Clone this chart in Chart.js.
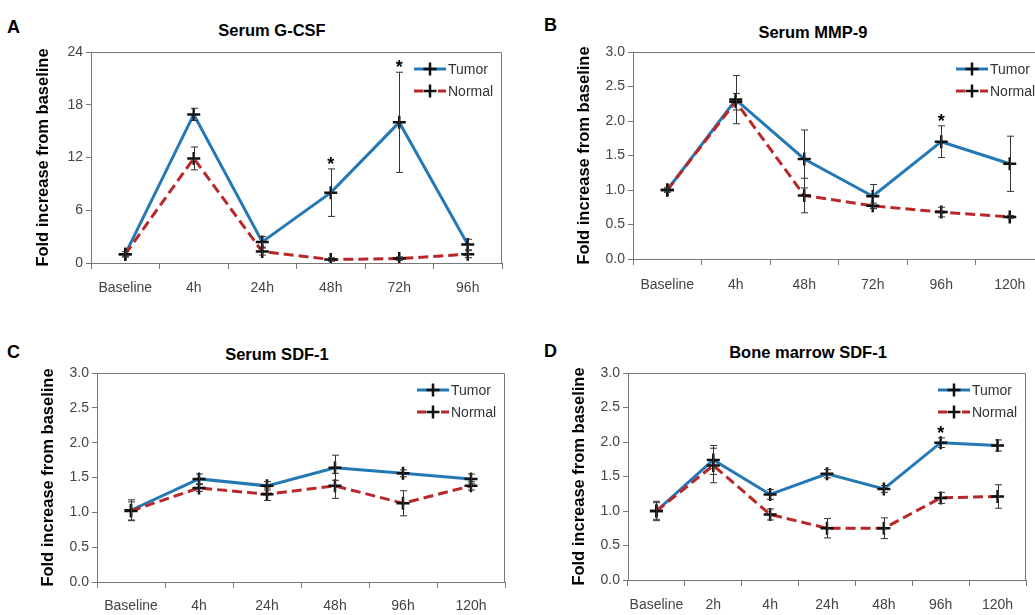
<!DOCTYPE html>
<html>
<head>
<meta charset="utf-8">
<script src="https://cdn.jsdelivr.net/npm/chart.js@4.4.0/dist/chart.umd.min.js"></script>
<style>
  html, body { margin: 0; padding: 0; background: #fff; overflow: hidden; width: 1035px; height: 615px; }
  canvas { position: absolute; }
  .lbl { position: absolute; font-family: "Liberation Sans", Arial, sans-serif; font-weight: bold; color: #000; white-space: nowrap; }
  .ttl { font-size: 16.5px; text-align: center; width: 300px; line-height: 20px; }
  .let { font-size: 18px; line-height: 20px; }
</style>
</head>
<body>
<div class="lbl let" style="left:7px;top:17px">A</div>
<div class="lbl let" style="left:544px;top:15px">B</div>
<div class="lbl let" style="left:7px;top:342px">C</div>
<div class="lbl let" style="left:544px;top:341px">D</div>
<div class="lbl ttl" style="left:122px;top:20px">Serum G-CSF</div>
<div class="lbl ttl" style="left:663px;top:22px">Serum MMP-9</div>
<div class="lbl ttl" style="left:127px;top:344px">Serum SDF-1</div>
<div class="lbl ttl" style="left:658px;top:342px">Bone marrow SDF-1</div>
<canvas id="chartA" width="515" height="305" style="left:0px;top:0px"></canvas>
<canvas id="chartB" width="540" height="305" style="left:520px;top:0px"></canvas>
<canvas id="chartC" width="515" height="305" style="left:0px;top:310px"></canvas>
<canvas id="chartD" width="515" height="305" style="left:520px;top:310px"></canvas>
<script>
const seriesNames = ["Tumor", "Normal"];

// A - Serum G-CSF
const catsA = ["Baseline", "4h", "24h", "48h", "72h", "96h"];
const tumorA = [1.0, 16.9, 2.4, 8.0, 16.0, 2.1];
const tumorErrA = [0.3, 0.7, 0.6, 2.7, 5.7, 0.6];
const normalA = [1.0, 11.9, 1.3, 0.4, 0.5, 1.0];
const normalErrA = [0.3, 1.3, 0.4, 0.2, 0.2, 0.4];
const starsA = [3, 4];
const yTicksA = [0, 6, 12, 18, 24];
const yLabelsA = ["0", "6", "12", "18", "24"];

// B - Serum MMP-9
const catsB = ["Baseline", "4h", "48h", "72h", "96h", "120h"];
const tumorB = [1.0, 2.31, 1.45, 0.91, 1.70, 1.38];
const tumorErrB = [0.03, 0.35, 0.42, 0.17, 0.23, 0.40];
const normalB = [1.0, 2.28, 0.92, 0.77, 0.68, 0.61];
const normalErrB = [0.03, 0.12, 0.25, 0.04, 0.07, 0.02];
const starsB = [4];

// C - Serum SDF-1
const catsC = ["Baseline", "4h", "24h", "48h", "96h", "120h"];
const tumorC = [1.03, 1.48, 1.38, 1.64, 1.56, 1.48];
const tumorErrC = [0.15, 0.07, 0.06, 0.18, 0.05, 0.07];
const normalC = [1.02, 1.35, 1.26, 1.38, 1.13, 1.38];
const normalErrC = [0.13, 0.05, 0.09, 0.18, 0.18, 0.06];
const starsC = [];

// D - Bone marrow SDF-1
const catsD = ["Baseline", "2h", "4h", "24h", "48h", "96h", "120h"];
const tumorD = [1.0, 1.74, 1.24, 1.54, 1.32, 1.99, 1.95];
const tumorErrD = [0.14, 0.21, 0.07, 0.06, 0.05, 0.07, 0.08];
const normalD = [1.0, 1.66, 0.95, 0.75, 0.75, 1.19, 1.21];
const normalErrD = [0.12, 0.25, 0.08, 0.14, 0.15, 0.08, 0.17];
const starsD = [5];

// shared y ticks for B, C, D
const yTicks3 = [0, 0.5, 1.0, 1.5, 2.0, 2.5, 3.0];
const yLabels3 = ["0.0", "0.5", "1.0", "1.5", "2.0", "2.5", "3.0"];

const FONT = '"Liberation Sans", Arial, sans-serif';
const blue = "#2478b5";
const red = "#b8282a";

// error bars, asterisks, plot box and in-plot legend
const extras = {
    id: "extras",
    afterDatasetsDraw(chart) {
        const ctx = chart.ctx;
        const xs = chart.scales.x, ys = chart.scales.y;
        const a = chart.chartArea;
        ctx.save();
        // box
        ctx.strokeStyle = "#777";
        ctx.lineWidth = 1;
        ctx.beginPath();
        ctx.moveTo(a.left, a.top + 0.5);
        ctx.lineTo(a.right - 0.5, a.top + 0.5);
        ctx.lineTo(a.right - 0.5, a.bottom);
        ctx.stroke();
        // error bars
        ctx.strokeStyle = "#333";
        chart.data.datasets.forEach(ds => {
            ds.data.forEach((v, i) => {
                const e = ds.err[i];
                const x = Math.round(xs.getPixelForValue(i)) + 0.5;
                const yt = ys.getPixelForValue(v + e);
                const yb = ys.getPixelForValue(v - e);
                ctx.beginPath();
                ctx.moveTo(x, yt); ctx.lineTo(x, yb);
                ctx.moveTo(x - 3.5, yt); ctx.lineTo(x + 3.5, yt);
                ctx.moveTo(x - 3.5, yb); ctx.lineTo(x + 3.5, yb);
                ctx.stroke();
            });
        });
        // asterisks
        const t = chart.data.datasets[0];
        ctx.fillStyle = "#000";
        ctx.font = "bold 18px " + FONT;
        ctx.textAlign = "center";
        ctx.textBaseline = "alphabetic";
        chart.options.stars.forEach(i => {
            const x = xs.getPixelForValue(i);
            const y = ys.getPixelForValue(t.data[i] + t.err[i]);
            ctx.fillText("*", x, y + 1);
        });
        // legend
        ctx.font = "14px " + FONT;
        ctx.textAlign = "left";
        ctx.textBaseline = "middle";
        chart.data.datasets.forEach((ds, k) => {
            const y = a.top + 17 + k * 22;
            const x0 = a.right - 88;
            ctx.strokeStyle = ds.borderColor;
            ctx.lineWidth = 3;
            ctx.setLineDash(ds.borderDash ? [9, 15] : []);
            ctx.beginPath();
            ctx.moveTo(x0, y); ctx.lineTo(x0 + 32, y);
            ctx.stroke();
            ctx.setLineDash([]);
            ctx.strokeStyle = "#111";
            ctx.lineWidth = 2.5;
            ctx.beginPath();
            ctx.moveTo(x0 + 9.5, y); ctx.lineTo(x0 + 22.5, y);
            ctx.moveTo(x0 + 16, y - 6.5); ctx.lineTo(x0 + 16, y + 6.5);
            ctx.stroke();
            ctx.fillStyle = "#333";
            ctx.fillText(ds.label, x0 + 34, y + 1);
        });
        ctx.restore();
    }
};

function makePanel(id, cats, tumor, tumorErr, normal, normalErr, stars, yTicks, yLabels, box) {
    const line = (label, data, err, color, dash, order) => ({
        label, data, err,
        borderColor: color,
        borderWidth: 3,
        borderDash: dash,
        tension: 0,
        order,
        pointStyle: "cross",
        pointRadius: 6.5,
        pointBorderWidth: 2.5,
        pointBorderColor: "#111",
        pointBackgroundColor: "#111",
    });
    return new Chart(document.getElementById(id), {
        type: "line",
        data: {
            labels: cats,
            datasets: [
                line(seriesNames[0], tumor, tumorErr, blue, undefined, 1),
                line(seriesNames[1], normal, normalErr, red, [10, 5], 0),
            ]
        },
        options: {
            responsive: false,
            animation: false,
            stars: stars,
            layout: { padding: { top: box.top, right: box.right, left: 0, bottom: 0 } },
            plugins: { legend: { display: false }, tooltip: { enabled: false } },
            scales: {
                x: {
                    offset: true,
                    grid: { offset: true, drawOnChartArea: false, tickLength: 6, color: "#777" },
                    border: { color: "#777" },
                    ticks: { font: { family: FONT, size: 14 }, color: "#444", padding: box.xpad, maxRotation: 0 },
                    afterFit: s => { s.height = box.xh; }
                },
                y: {
                    min: yTicks[0],
                    max: yTicks[yTicks.length - 1],
                    afterBuildTicks: s => { s.ticks = yTicks.map(v => ({ value: v })); },
                    grid: { drawOnChartArea: false, tickLength: 5, color: "#777" },
                    border: { color: "#777" },
                    ticks: {
                        font: { family: FONT, size: 14 }, color: "#444", padding: 3,
                        callback: (v, i) => yLabels[i]
                    },
                    title: {
                        display: true,
                        text: "Fold increase from baseline",
                        font: { family: FONT, size: 16.5, weight: "bold" },
                        color: "#000",
                        padding: { top: box.tpad, bottom: 0 }
                    },
                    afterFit: s => { s.width = box.yw; }
                }
            }
        },
        plugins: [extras]
    });
}

makePanel("chartA", catsA, tumorA, tumorErrA, normalA, normalErrA, starsA, yTicksA, yLabelsA,
    { top: 52, right: 13, yw: 91, xh: 42, xpad: 11, tpad: 33.5 });
makePanel("chartB", catsB, tumorB, tumorErrB, normalB, normalErrB, starsB, yTicks3, yLabels3,
    { top: 52, right: 16, yw: 113, xh: 46, xpad: 12, tpad: 55 });
makePanel("chartC", catsC, tumorC, tumorErrC, normalC, normalErrC, starsC, yTicks3, yLabels3,
    { top: 63, right: 10, yw: 97, xh: 33, xpad: 10, tpad: 38.5 });
makePanel("chartD", catsD, tumorD, tumorErrD, normalD, normalErrD, starsD, yTicks3, yLabels3,
    { top: 63, right: 2, yw: 108, xh: 35, xpad: 11, tpad: 50 });
</script>
</body>
</html>
